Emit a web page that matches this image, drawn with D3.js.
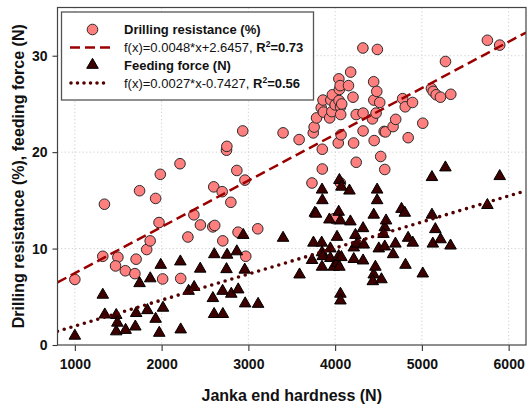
<!DOCTYPE html>
<html>
<head>
<meta charset="utf-8">
<script src="https://cdn.jsdelivr.net/npm/d3@7"></script>
<style>
  body { margin: 0; background: #fff; }
  svg { display: block; font-family: "Liberation Sans", Arial, sans-serif; }
</style>
</head>
<body>
<svg id="chart" width="527" height="406"></svg>
<script>
// Axis ticks
const xTicks = [1000, 2000, 3000, 4000, 5000, 6000];
const yTicks = [0, 10, 20, 30];

// Drilling resistance (%) versus Janka end hardness (N)
const drillHardness = [
  1000, 1341, 1322, 1496, 1469, 1582, 1692, 1706, 1746, 1828,
  1868, 1931, 1970, 1985, 2012, 2212, 2220, 2303, 2372, 2447,
  2590, 2612, 2601, 2698, 2705, 2748, 2752, 2798, 2867, 2881,
  2935, 2960, 2970, 3108, 3400, 3585, 3733, 3748, 3758, 3786,
  3840, 3860, 3852, 3852, 3865, 3937, 3950, 3968, 3962, 4000,
  4036, 4043, 4049, 4045, 4062, 4064, 4058, 4068, 4076, 4154,
  4179, 4206, 4213, 4243, 4243, 4322, 4322, 4320, 4430, 4444,
  4446, 4450, 4472, 4480, 4487, 4514, 4525, 4565, 4572, 4580,
  4668, 4698, 4778, 4808, 4842, 4892, 5010, 5110, 5130, 5165,
  5214, 5272, 5333, 5755, 5897, 3988, 4061
];
const drillResistance = [
  6.8, 14.6, 9.2, 9.1, 8.2, 7.7, 7.4, 8.9, 16.0, 9.9,
  10.8, 15.2, 12.7, 17.7, 6.85, 18.8, 6.9, 11.2, 13.5, 12.45,
  12.25, 12.4, 16.4, 15.9, 10.8, 20.2, 20.6, 14.8, 18.1, 11.7,
  22.2, 17.1, 9.2, 12.05, 22.0, 21.3, 16.8, 22.0, 22.6, 23.55,
  24.6, 25.4, 20.3, 18.25, 24.15, 23.55, 25.4, 25.95, 24.2, 24.9,
  20.95, 27.6, 26.5, 25.35, 24.7, 23.9, 26.9, 21.8, 25.0, 26.9,
  28.3, 25.7, 20.95, 18.95, 23.9, 24.05, 22.2, 30.8, 23.45, 27.3,
  25.4, 21.2, 24.05, 26.3, 30.65, 25.15, 19.55, 22.15, 18.2, 22.1,
  22.65, 23.4, 25.55, 24.7, 21.5, 25.15, 23.0, 26.6, 26.3, 25.95,
  25.7, 29.4, 26.0, 31.6, 31.1, 13.1, 16.8
];

// Feeding force (N) versus Janka end hardness (N)
const feedHardness = [
  1000, 1322, 1345, 1477, 1490, 1477, 1585, 1697, 1707, 1746,
  1836, 1869, 1931, 1973, 1990, 2016, 2216, 2220, 2311, 2375,
  2445, 2591, 2605, 2607, 2706, 2703, 2748, 2755, 2803, 2867,
  2883, 2941, 2958, 2963, 3112, 3400, 3590,
  3734, 3750, 3766, 3780, 3849, 3853, 3845, 3849, 3857, 3849,
  3934, 3945, 3945, 3984, 4022, 4022, 4041, 4049, 4072, 4061,
  4041, 4072, 4049, 4061, 4061, 4165, 4176, 4215, 4215, 4234,
  4253, 4322, 4330, 4322, 4445, 4445, 4434, 4464, 4484, 4484,
  4503, 4534, 4572, 4587, 4557, 4572, 4668, 4695, 4765, 4803,
  4811, 4841, 4895, 5010,
  5116, 5116, 5155, 5126, 5215, 5271, 5330, 5755, 5897
];
const feedForce = [
  0.95, 5.2, 3.15, 3.1, 2.3, 1.4, 1.55, 1.9, 3.3, 6.4,
  3.6, 6.9, 2.7, 1.25, 8.3, 3.85, 8.65, 1.6, 5.6, 6.0,
  7.9, 4.85, 3.2, 9.4, 3.2, 5.6, 7.85, 9.35, 5.3, 9.7,
  5.75, 11.4, 7.8, 4.3, 4.25, 11.1, 7.3,
  8.8, 10.6, 13.7, 13.6, 16.1, 15.0, 10.6, 9.6, 9.2, 8.1,
  13.0, 10.0, 9.0, 8.1, 8.5, 11.2, 13.8, 17.1, 16.4, 12.9,
  9.2, 9.1, 8.1, 5.3, 4.6, 16.0, 12.8, 10.1, 8.9, 11.4,
  10.5, 12.1, 10.4, 8.75, 13.5, 7.3, 6.6, 8.1, 16.1, 15.0,
  10.0, 6.8, 12.2, 12.9, 11.5, 10.2, 9.4, 10.5, 14.1, 13.7,
  8.3, 11.1, 10.6, 7.4,
  17.4, 13.5, 12.0, 10.5, 10.95, 18.4, 10.3, 14.5, 17.5
];

// Linear fits: [slope, intercept]
const drillFit = [0.0048, 2.6457];
const feedFit = [0.0027, -0.7427];
const fitR2 = ["0.73", "0.56"];
const seriesNames = ["Drilling resistance (%)", "Feeding force (N)"];

const svg = d3.select("#chart");
const plotL = 57.5, plotR = 526, plotT = 7.5, plotB = 345;

const x = d3.scaleLinear().domain([800, 6200]).range([plotL, plotR]);
const y = d3.scaleLinear().domain([0, 35]).range([plotB, plotT]);

const circleFill = "#ff7f7f";
const triFill = "#3d0000";
const dashColor = "#9a0000";
const dotColor = "#520000";

svg.append("defs").append("clipPath").attr("id", "plotClip")
  .append("rect").attr("x", plotL).attr("y", plotT)
  .attr("width", plotR - plotL).attr("height", plotB - plotT);

// Dotted reference grid
const grid = svg.append("g").attr("stroke", "#cfcfcf").attr("stroke-width", 1)
  .attr("stroke-dasharray", "1.2,2.4");
grid.selectAll("line.gx").data(xTicks).join("line")
  .attr("x1", d => x(d)).attr("x2", d => x(d)).attr("y1", plotT).attr("y2", plotB);
grid.selectAll("line.gy").data(yTicks.filter(d => d > 0)).join("line")
  .attr("x1", plotL).attr("x2", plotR).attr("y1", d => y(d)).attr("y2", d => y(d));

// Axes
const xAxis = svg.append("g").attr("transform", `translate(0,${plotB})`)
  .call(d3.axisBottom(x).tickValues(xTicks).tickSize(6).tickPadding(8).tickFormat(d3.format("d")));
const yAxis = svg.append("g").attr("transform", `translate(${plotL},0)`)
  .call(d3.axisLeft(y).tickValues(yTicks).tickSize(5).tickPadding(5).tickFormat(d3.format("d")));
[xAxis, yAxis].forEach(g => {
  g.select(".domain").remove();
  g.selectAll(".tick line").attr("stroke", "#333").attr("stroke-width", 1.1);
  g.selectAll(".tick text").attr("fill", "#111")
    .style("font-size", "14px").style("font-weight", "bold")
    .style("font-family", '"Liberation Sans", Arial, sans-serif');
});

// Points
const plot = svg.append("g").attr("clip-path", "url(#plotClip)");
const tri = d3.symbol().type(d3.symbolTriangle).size(58);

plot.append("g").selectAll("circle").data(drillHardness).join("circle")
  .attr("cx", d => x(d)).attr("cy", (d, i) => y(drillResistance[i]))
  .attr("r", 5.3).attr("fill", circleFill)
  .attr("stroke", "#2a2a2a").attr("stroke-width", 1);

plot.append("g").selectAll("path").data(feedHardness).join("path")
  .attr("d", tri)
  .attr("transform", (d, i) => `translate(${x(d)},${y(feedForce[i])})`)
  .attr("fill", triFill).attr("stroke", "#000").attr("stroke-width", 1);

// Fit lines
const xs = x.domain();
const fitLine = f => xs.map(v => [x(v), y(f[0] * v + f[1])]);
plot.append("path").attr("d", d3.line()(fitLine(drillFit)))
  .attr("fill", "none").attr("stroke", dashColor).attr("stroke-width", 2.5)
  .attr("stroke-dasharray", "10,5");
plot.append("path").attr("d", d3.line()(fitLine(feedFit)))
  .attr("fill", "none").attr("stroke", dotColor).attr("stroke-width", 3.6)
  .attr("stroke-linecap", "round").attr("stroke-dasharray", "0,7");

// Frame
svg.append("rect").attr("x", plotL).attr("y", plotT)
  .attr("width", plotR - plotL).attr("height", plotB - plotT)
  .attr("fill", "none").attr("stroke", "#444").attr("stroke-width", 1.2);

// Axis titles
svg.append("text").attr("x", (plotL + plotR) / 2).attr("y", 401)
  .attr("text-anchor", "middle").style("font-size", "16px").style("font-weight", "bold")
  .attr("fill", "#111").text("Janka end hardness (N)");
svg.append("text").attr("transform", `translate(24,${(plotT + plotB) / 2}) rotate(-90)`)
  .attr("text-anchor", "middle").style("font-size", "16px").style("font-weight", "bold")
  .attr("fill", "#111").text("Drilling resistance (%), feeding force (N)");

// Legend
const lg = svg.append("g");
lg.append("rect").attr("x", 61.5).attr("y", 12).attr("width", 252).attr("height", 88)
  .attr("fill", "#fff").attr("stroke", "#555").attr("stroke-width", 1.3);
const symX = 92.5, textX = 124, rows = [29.5, 47.5, 65, 83];

lg.append("circle").attr("cx", symX).attr("cy", rows[0]).attr("r", 5.3)
  .attr("fill", circleFill).attr("stroke", "#2a2a2a").attr("stroke-width", 1);
lg.append("line").attr("x1", 70).attr("x2", 111).attr("y1", rows[1]).attr("y2", rows[1])
  .attr("stroke", dashColor).attr("stroke-width", 2.5).attr("stroke-dasharray", "10,5");
lg.append("path").attr("d", tri).attr("transform", `translate(${symX},${rows[2]})`)
  .attr("fill", triFill).attr("stroke", "#000").attr("stroke-width", 1);
lg.append("line").attr("x1", 71).attr("x2", 110).attr("y1", rows[3]).attr("y2", rows[3])
  .attr("stroke", dotColor).attr("stroke-width", 3.6).attr("stroke-linecap", "round")
  .attr("stroke-dasharray", "0,6.5");

const fmtFit = f => `f(x)=${f[0]}*x${f[1] < 0 ? "-" : "+"}${Math.abs(f[1])}, `;
[[seriesNames[0], null], [drillFit, fitR2[0]], [seriesNames[1], null], [feedFit, fitR2[1]]]
  .forEach(([item, r2], i) => {
    const t = lg.append("text").attr("x", textX).attr("y", rows[i] + 4.6)
      .style("font-size", "13px").attr("fill", "#111");
    if (r2 === null) {
      t.style("font-weight", "bold").text(item);
    } else {
      t.append("tspan").text(fmtFit(item));
      t.append("tspan").style("font-weight", "bold").text("R");
      t.append("tspan").style("font-weight", "bold").style("font-size", "8.5px")
        .attr("dy", -5).text("2");
      t.append("tspan").style("font-weight", "bold").attr("dy", 5).text("=" + r2);
    }
  });
</script>
</body>
</html>
